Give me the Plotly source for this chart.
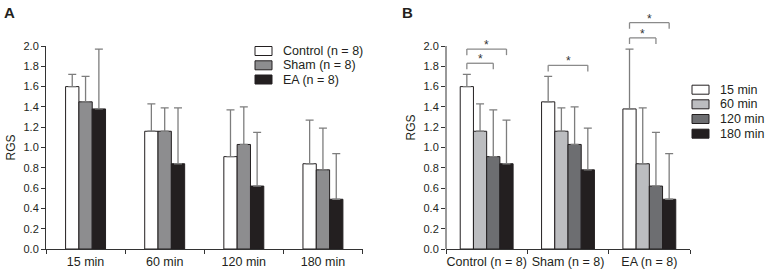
import plotly.graph_objects as go

# ---------------- data ----------------
times = ["15 min", "60 min", "120 min", "180 min"]
groups = ["Control (n = 8)", "Sham (n = 8)", "EA (n = 8)"]

control_mean = [1.60, 1.16, 0.91, 0.84]
sham_mean = [1.45, 1.16, 1.03, 0.78]
ea_mean = [1.38, 0.84, 0.62, 0.49]

control_sd = [0.12, 0.27, 0.46, 0.43]
sham_sd = [0.25, 0.23, 0.37, 0.41]
ea_sd = [0.59, 0.55, 0.53, 0.45]

y_ticks = [0.0, 0.2, 0.4, 0.6, 0.8, 1.0, 1.2, 1.4, 1.6, 1.8, 2.0]

# significance brackets in panel B: group index, from time index, to time index, level
bracket_group = [0, 0, 1, 2, 2]
bracket_from = [0, 0, 0, 0, 0]
bracket_to = [2, 3, 3, 2, 3]
bracket_level = [1.83, 1.97, 1.81, 2.08, 2.23]

# ---------------- style ----------------
FONT = "Liberation Sans, Arial, sans-serif"
INK = "#231f20"
group_colors = ["#ffffff", "#8d8d8f", INK]
time_colors = ["#ffffff", "#bcbdc0", "#6d6e71", INK]
ERR = "#7d7d7d"

W_FIG, H_FIG = 765, 273
ML, MR, MT, MB = 46, 75, 6, 24
PW = W_FIG - ML - MR
PH = H_FIG - MT - MB
A_END_PX = 362.5
B_START_PX = 446
A_TOP_PX = 46
bottom_px = H_FIG - MB

a_ytop = (bottom_px - A_TOP_PX) / PH
b_range_top = y_ticks[-1] / a_ytop

gap_a = 0.495
gap_b = 0.35


def px_x(px):
    return (px - ML) / PW


def px_y(py):
    return (bottom_px - py) / PH


fig = go.Figure()

means = [control_mean, sham_mean, ea_mean]
sds = [control_sd, sham_sd, ea_sd]

# Panel A: groups as series, times as categories
gw_a = 1 - gap_a
bw_a = gw_a / len(groups)
for g in range(len(groups)):
    fig.add_trace(go.Bar(
        x=times, y=means[g], name=groups[g],
        width=bw_a, offset=-gw_a / 2 + bw_a * g,
        marker=dict(color=group_colors[g], line=dict(color=INK, width=1)),
        error_y=dict(type="data", array=sds[g], arrayminus=[0] * len(times),
                     symmetric=False, color=ERR, thickness=1.3, width=4),
        xaxis="x", yaxis="y", showlegend=False,
    ))

# Panel B: times as series, groups as categories
gw_b = 1 - gap_b
bw_b = gw_b / len(times)
for t in range(len(times)):
    fig.add_trace(go.Bar(
        x=groups, y=[means[g][t] for g in range(len(groups))], name=times[t],
        width=bw_b, offset=-gw_b / 2 + bw_b * t,
        marker=dict(color=time_colors[t], line=dict(color=INK, width=1)),
        error_y=dict(type="data", array=[sds[g][t] for g in range(len(groups))],
                     arrayminus=[0] * len(groups), symmetric=False,
                     color=ERR, thickness=1.3, width=4),
        xaxis="x2", yaxis="y2", showlegend=False,
    ))

shapes = []
annotations = []

# brackets
drop = 0.06
for k in range(len(bracket_group)):
    c = bracket_group[k]
    xa = c - gw_b / 2 + bw_b * (bracket_from[k] + 0.5)
    xb = c - gw_b / 2 + bw_b * (bracket_to[k] + 0.5)
    lv = bracket_level[k]
    for (x0, y0, x1, y1) in [(xa, lv - drop, xa, lv), (xa, lv, xb, lv), (xb, lv, xb, lv - drop)]:
        shapes.append(dict(type="line", xref="x2", yref="y2", x0=x0, y0=y0, x1=x1, y1=y1,
                           line=dict(color="#8a8a8a", width=1.3)))
    annotations.append(dict(x=(xa + xb) / 2, y=lv, xref="x2", yref="y2", text="*",
                            showarrow=False, xanchor="center", yanchor="middle", yshift=4,
                            font=dict(family=FONT, size=12, color="#333333")))

# B y-axis line only up to 2.0
shapes.append(dict(type="line", xref="x2 domain", yref="y2", x0=0, x1=0, y0=0, y1=y_ticks[-1],
                   line=dict(color="#333333", width=1)))

# legend A
leg_a_rows = [51, 65.3, 79.5]
for g in range(len(groups)):
    cy = leg_a_rows[g]
    shapes.append(dict(type="rect", xref="paper", yref="paper",
                       x0=px_x(255), x1=px_x(272), y0=px_y(cy + 4.5), y1=px_y(cy - 4.5),
                       fillcolor=group_colors[g], line=dict(color=INK, width=1)))
    annotations.append(dict(x=px_x(281), y=px_y(cy), xref="paper", yref="paper",
                            text=groups[g], showarrow=False, xanchor="left", yanchor="middle",
                            font=dict(family=FONT, size=12.5, color=INK)))

# legend B
leg_b_rows = [89.7, 104.3, 119.0, 133.7]
for t in range(len(times)):
    cy = leg_b_rows[t]
    shapes.append(dict(type="rect", xref="paper", yref="paper",
                       x0=px_x(692), x1=px_x(709), y0=px_y(cy + 4.5), y1=px_y(cy - 4.5),
                       fillcolor=time_colors[t], line=dict(color=INK, width=1)))
    annotations.append(dict(x=px_x(718), y=px_y(cy), xref="paper", yref="paper",
                            text=times[t], showarrow=False, xanchor="left", yanchor="middle",
                            font=dict(family=FONT, size=12.5, color=INK)))

# panel letters
for letter, lx in [("A", 9), ("B", 407)]:
    annotations.append(dict(x=px_x(lx), y=px_y(13), xref="paper", yref="paper",
                            text="<b>" + letter + "</b>", showarrow=False,
                            xanchor="center", yanchor="middle",
                            font=dict(family=FONT, size=15, color=INK)))

xaxis_common = dict(type="category", showline=True, linecolor="#333333", linewidth=1,
                    ticks="outside", tickson="boundaries", ticklen=4, tickcolor="#333333",
                    tickangle=0, ticklabelstandoff=1,
                    showgrid=False, zeroline=False,
                    tickfont=dict(family=FONT, size=12.5, color=INK))
yaxis_common = dict(tickvals=y_ticks, tickformat=".1f", ticks="outside", ticklen=4,
                    tickcolor="#333333", showgrid=False, zeroline=False,
                    tickfont=dict(family=FONT, size=11, color=INK),
                    title=dict(text="RGS", font=dict(family=FONT, size=12, color=INK),
                               standoff=5))

fig.update_layout(
    width=W_FIG, height=H_FIG,
    margin=dict(l=ML, r=MR, t=MT, b=MB, autoexpand=False),
    paper_bgcolor="white", plot_bgcolor="white",
    barmode="overlay",
    xaxis=dict(domain=[0, px_x(A_END_PX)], anchor="y", range=[-0.5, len(times) - 0.5],
               **xaxis_common),
    yaxis=dict(domain=[0, a_ytop], range=[0, y_ticks[-1]], anchor="x",
               showline=True, linecolor="#333333", linewidth=1, **yaxis_common),
    xaxis2=dict(domain=[px_x(B_START_PX), 1], anchor="y2", range=[-0.5, len(groups) - 0.5],
                **xaxis_common),
    yaxis2=dict(domain=[0, 1], range=[0, b_range_top], anchor="x2", showline=False,
                **yaxis_common),
    shapes=shapes, annotations=annotations,
    showlegend=False,
)

fig.write_html("out.html", config={"displayModeBar": False},
               post_script="document.body.style.margin='0';")
